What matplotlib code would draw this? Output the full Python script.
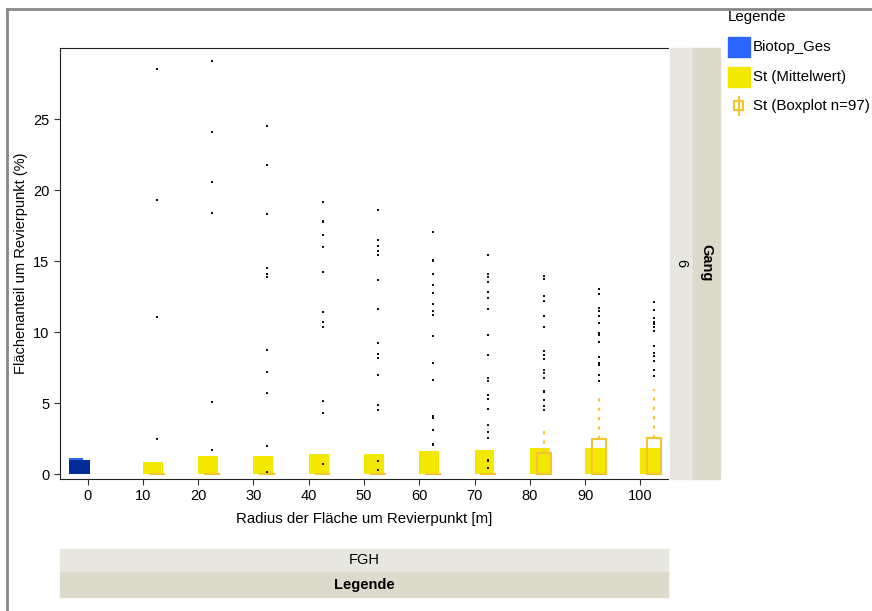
import matplotlib.pyplot as plt
from matplotlib.patches import Rectangle
from matplotlib.lines import Line2D
import numpy as np

plt.rcParams['font.family'] = ['Liberation Sans', 'DejaVu Sans']

radius = [10, 20, 30, 40, 50, 60, 70, 80, 90, 100]
biotop = 1.0
st_mean = [0.87, 1.29, 1.27, 1.43, 1.43, 1.64, 1.71, 1.85, 1.85, 1.85]
# boxplot: q1, median, q3, upper whisker
st_q1 = [0, 0, 0, 0, 0, 0, 0, 0, 0, 0]
st_med = [0, 0, 0, 0, 0, 0, 0, 0, 0, 0]
st_q3 = [0, 0, 0, 0, 0, 0, 0, 1.48, 2.5, 2.58]
st_whi = [0, 0, 0, 0, 0, 0, 0, 3.33, 5.37, 6.0]

outliers = {
    10: [28.5, 19.3, 11.1, 2.5],
    20: [29.08, 24.08, 20.58, 18.4, 5.09, 1.69],
    30: [24.5, 21.76, 18.33, 14.5, 14.08, 13.92, 8.75, 7.18, 5.75, 1.99, 0.16],
    40: [19.15, 17.8, 17.75, 16.83, 15.99, 14.25, 11.4, 10.75, 10.35, 5.16, 4.34, 0.75],
    50: [18.59, 16.5, 16.08, 15.73, 15.44, 13.68, 11.6, 9.25, 8.45, 8.17, 6.99,
         4.86, 4.53, 0.91, 0.33],
    60: [17.08, 15.09, 15.0, 14.08, 13.33, 12.75, 12.02, 11.52, 11.24, 9.76, 7.84,
         6.66, 4.1, 3.99, 3.1, 2.11, 2.06],
    70: [15.42, 14.1, 13.87, 13.52, 12.84, 12.44, 11.64, 11.6, 9.83, 8.42, 6.76,
         6.59, 5.61, 5.33, 4.58, 3.47, 3.0, 2.58, 1.01, 0.94, 0.42],
    80: [13.96, 13.77, 12.58, 12.18, 11.17, 11.12, 10.35, 8.71, 8.38, 8.1, 7.35,
         7.11, 6.76, 5.89, 5.77, 5.25, 4.83, 4.53],
    90: [13.05, 12.68, 11.69, 11.5, 11.15, 10.65, 9.93, 9.83, 9.32, 8.26, 7.84,
         7.7, 6.99, 6.59],
    100: [12.16, 11.57, 11.03, 10.75, 10.56, 10.4, 10.09, 9.04, 8.52, 8.33, 8.0,
          7.35, 6.92],
}

blue_dark = '#002b99'
blue = '#2a66ff'
yellow = '#f2e800'
gold = '#f5c431'
strip_light = '#e8e7df'
strip_dark = '#dcdacb'

fig = plt.figure(figsize=(8.72, 6.11), dpi=100)
W, H = 872, 611


def fx(px):
    return px / W


def fy(py):
    return 1 - py / H


ax = fig.add_axes([fx(60), fy(479), fx(668) - fx(60), fy(48) - fy(479)])

# Biotop_Ges bar (light sliver behind the highlighted bar)
ax.bar(-3.4, 1.12, width=2.6, align='edge', color=blue, zorder=1)
ax.bar(-1.5, biotop, width=3.8, color=blue_dark, zorder=2)

# mean bars
ax.bar(radius, st_mean, width=3.6, align='edge', color=yellow, zorder=2)

# boxplots
bx = np.array(radius) + 2.5
for i, x in enumerate(bx):
    q1, med, q3, wh = st_q1[i], st_med[i], st_q3[i], st_whi[i]
    if q3 > q1:
        ax.add_patch(Rectangle((x - 1.25, q1), 2.5, q3 - q1, fill=False,
                               edgecolor=gold, lw=1.5, zorder=3))
        ax.plot([x, x], [q3, wh], color=gold, lw=1.5, ls=(0, (1.5, 3)), zorder=3)
    ax.plot([x - 1.25, x + 1.25], [med, med], color=gold, lw=1.5, zorder=3)

# outliers
for r, vals in outliers.items():
    ax.scatter([r + 2.5] * len(vals), vals, s=4, marker='s', color='#111111',
               linewidths=0, zorder=4)

ax.set_xlim(-5, 105)
ax.set_ylim(-0.33, 30.0)
ax.set_xticks([0, 10, 20, 30, 40, 50, 60, 70, 80, 90, 100])
ax.set_yticks([0, 5, 10, 15, 20, 25])
ax.tick_params(labelsize=10.5, length=4, color='#333333')
ax.spines['right'].set_visible(False)
for s in ['left', 'top', 'bottom']:
    ax.spines[s].set_color('#222222')
ax.set_xlabel('Radius der Fläche um Revierpunkt [m]', fontsize=10.8, labelpad=6)
ax.set_ylabel('Flächenanteil um Revierpunkt (%)', fontsize=10.5, labelpad=4)

# right strips
fig.patches.append(Rectangle((fx(670), fy(479)), fx(693) - fx(670), fy(48) - fy(479),
                             transform=fig.transFigure, color=strip_light, zorder=0))
fig.patches.append(Rectangle((fx(693), fy(479)), fx(720) - fx(693), fy(48) - fy(479),
                             transform=fig.transFigure, color=strip_dark, zorder=0))
fig.text(fx(681), fy(263), '6', rotation=-90, ha='center', va='center', fontsize=10.5)
fig.text(fx(706), fy(263), 'Gang', rotation=-90, ha='center', va='center',
         fontsize=10.5, fontweight='bold')

# bottom strips
fig.patches.append(Rectangle((fx(60), fy(572)), fx(668) - fx(60), fy(549) - fy(572),
                             transform=fig.transFigure, color=strip_light, zorder=0))
fig.patches.append(Rectangle((fx(60), fy(597)), fx(668) - fx(60), fy(572) - fy(597),
                             transform=fig.transFigure, color=strip_dark, zorder=0))
fig.text(fx(364), fy(560), 'FGH', ha='center', va='center', fontsize=10.5)
fig.text(fx(364), fy(585), 'Legende', ha='center', va='center', fontsize=10.5,
         fontweight='bold')

# outer frame
fig.lines.append(Line2D([fx(7), fx(7)], [0, fy(9)], transform=fig.transFigure,
                        color='#888888', lw=2))
fig.lines.append(Line2D([fx(7), 1], [fy(9), fy(9)], transform=fig.transFigure,
                        color='#888888', lw=2))

# legend (drawn by hand)
fig.text(fx(728), fy(17), 'Legende', ha='left', va='center', fontsize=10.8)
fig.patches.append(Rectangle((fx(728), fy(57)), fx(22), 20 / H,
                             transform=fig.transFigure, color=blue))
fig.patches.append(Rectangle((fx(728), fy(87)), fx(22), 20 / H,
                             transform=fig.transFigure, color=yellow))
fig.lines.append(Line2D([fx(738.5), fx(738.5)], [fy(115), fy(97)],
                        transform=fig.transFigure, color=gold, lw=1.5))
fig.patches.append(Rectangle((fx(734), fy(110)), fx(9), 9 / H,
                             transform=fig.transFigure, facecolor='white',
                             edgecolor=gold, lw=1.5))
leg_labels = ['Biotop_Ges', 'St (Mittelwert)', 'St (Boxplot n=97)']
for lab, yy in zip(leg_labels, [47, 77, 106]):
    fig.text(fx(753), fy(yy), lab, ha='left', va='center', fontsize=10.8)

fig.savefig('out.png', dpi=100)
